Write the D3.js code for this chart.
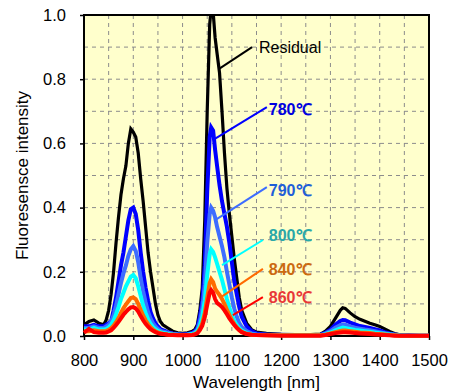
<!DOCTYPE html>
<html lang="en">
<head>
<meta charset="UTF-8">
<script src="https://d3js.org/d3.v7.min.js"></script>
<style>
  body { margin: 0; background: #fff; }
  svg text { font-family: "Liberation Sans", Arial, sans-serif; }
</style>
</head>
<body>
<div id="chart"></div>
<script>
// wavelengths shared by every series (nm)
var wavelengths = [
  800, 810, 820, 830, 840, 845, 850, 855, 860, 865,
  870, 875, 880, 885, 890, 895, 900, 905, 910, 915,
  920, 925, 930, 935, 940, 945, 950, 955, 960, 970,
  980, 990, 1000, 1010, 1020, 1025, 1030, 1035, 1040, 1045,
  1050, 1055, 1058, 1062, 1066, 1070, 1075, 1080, 1085, 1090,
  1095, 1100, 1105, 1110, 1115, 1120, 1130, 1140, 1150, 1170,
  1200, 1230, 1260, 1280, 1290, 1300, 1310, 1320, 1325, 1330,
  1340, 1350, 1360, 1370, 1380, 1390, 1400, 1410, 1420, 1430,
  1440, 1460, 1480, 1500
];

var residual = [
  0.035, 0.045, 0.05, 0.04, 0.035, 0.05, 0.08, 0.13, 0.20, 0.29,
  0.37, 0.44, 0.49, 0.53, 0.60, 0.645, 0.635, 0.62, 0.57, 0.49,
  0.42, 0.34, 0.26, 0.20, 0.15, 0.10, 0.065, 0.045, 0.035, 0.025,
  0.015, 0.01, 0.008, 0.01, 0.015, 0.02, 0.035, 0.08, 0.15, 0.36,
  0.70, 0.97, 1.02, 1.01, 0.93, 0.88, 0.82, 0.70, 0.57, 0.46,
  0.38, 0.31, 0.24, 0.18, 0.12, 0.08, 0.04, 0.02, 0.012, 0.008,
  0.005, 0.004, 0.004, 0.006, 0.015, 0.03, 0.055, 0.08, 0.088, 0.086,
  0.072, 0.06, 0.052, 0.046, 0.04, 0.035, 0.03, 0.022, 0.014, 0.008,
  0.004, 0.002, 0.001, 0.001
];
var t780 = [
  0.03, 0.03, 0.035, 0.03, 0.03, 0.035, 0.04, 0.045, 0.08, 0.12,
  0.17, 0.22, 0.26, 0.31, 0.36, 0.395, 0.40, 0.38, 0.33, 0.26,
  0.20, 0.15, 0.11, 0.075, 0.055, 0.04, 0.03, 0.022, 0.018, 0.012,
  0.008, 0.006, 0.005, 0.006, 0.01, 0.015, 0.025, 0.06, 0.11, 0.22,
  0.45, 0.62, 0.65, 0.64, 0.58, 0.53, 0.47, 0.42, 0.38, 0.34,
  0.29, 0.23, 0.17, 0.13, 0.09, 0.06, 0.03, 0.015, 0.008, 0.005,
  0.004, 0.003, 0.003, 0.004, 0.01, 0.02, 0.035, 0.047, 0.05, 0.049,
  0.042, 0.036, 0.031, 0.028, 0.025, 0.021, 0.017, 0.012, 0.008, 0.005,
  0.003, 0.002, 0.001, 0.001
];
var t790 = [
  0.025, 0.025, 0.03, 0.025, 0.025, 0.03, 0.035, 0.045, 0.065, 0.095,
  0.13, 0.165, 0.195, 0.22, 0.25, 0.27, 0.28, 0.265, 0.23, 0.18,
  0.14, 0.105, 0.075, 0.055, 0.04, 0.03, 0.022, 0.017, 0.014, 0.01,
  0.007, 0.005, 0.004, 0.005, 0.008, 0.012, 0.02, 0.045, 0.085, 0.16,
  0.29, 0.38, 0.40, 0.39, 0.37, 0.34, 0.31, 0.28, 0.245, 0.20,
  0.16, 0.12, 0.085, 0.06, 0.04, 0.028, 0.015, 0.008, 0.005, 0.004,
  0.003, 0.003, 0.003, 0.003, 0.008, 0.015, 0.026, 0.034, 0.036, 0.035,
  0.03, 0.026, 0.023, 0.02, 0.018, 0.015, 0.012, 0.009, 0.006, 0.004,
  0.002, 0.001, 0.001, 0.001
];
var t800 = [
  0.02, 0.02, 0.025, 0.02, 0.02, 0.022, 0.027, 0.035, 0.048, 0.068,
  0.09, 0.115, 0.135, 0.155, 0.17, 0.185, 0.19, 0.18, 0.155, 0.125,
  0.095, 0.072, 0.052, 0.038, 0.028, 0.021, 0.016, 0.012, 0.01, 0.007,
  0.005, 0.004, 0.003, 0.004, 0.006, 0.009, 0.015, 0.032, 0.06, 0.11,
  0.19, 0.255, 0.27, 0.262, 0.245, 0.225, 0.20, 0.175, 0.145, 0.115,
  0.088, 0.065, 0.047, 0.034, 0.024, 0.017, 0.009, 0.005, 0.004, 0.003,
  0.002, 0.002, 0.002, 0.002, 0.006, 0.011, 0.018, 0.024, 0.026, 0.025,
  0.022, 0.019, 0.017, 0.015, 0.013, 0.011, 0.009, 0.007, 0.005, 0.003,
  0.002, 0.001, 0.001, 0.001
];
var t840 = [
  0.015, 0.015, 0.018, 0.015, 0.015, 0.016, 0.019, 0.024, 0.032, 0.043,
  0.056, 0.072, 0.086, 0.098, 0.108, 0.118, 0.12, 0.115, 0.10, 0.082,
  0.064, 0.049, 0.037, 0.027, 0.02, 0.015, 0.011, 0.009, 0.007, 0.005,
  0.004, 0.003, 0.003, 0.003, 0.004, 0.006, 0.01, 0.022, 0.04, 0.072,
  0.12, 0.165, 0.177, 0.168, 0.148, 0.138, 0.128, 0.115, 0.10, 0.082,
  0.065, 0.05, 0.037, 0.027, 0.019, 0.013, 0.007, 0.004, 0.003, 0.002,
  0.002, 0.002, 0.002, 0.002, 0.004, 0.008, 0.012, 0.016, 0.017, 0.017,
  0.015, 0.013, 0.011, 0.01, 0.009, 0.007, 0.006, 0.005, 0.003, 0.002,
  0.001, 0.001, 0.001, 0.001
];
var t860 = [
  0.01, 0.022, 0.012, 0.01, 0.01, 0.011, 0.014, 0.018, 0.025, 0.034,
  0.044, 0.055, 0.066, 0.075, 0.083, 0.089, 0.09, 0.086, 0.076, 0.062,
  0.049, 0.038, 0.029, 0.021, 0.016, 0.012, 0.009, 0.007, 0.006, 0.004,
  0.003, 0.002, 0.002, 0.002, 0.003, 0.005, 0.008, 0.018, 0.032, 0.058,
  0.097, 0.135, 0.143, 0.135, 0.115, 0.103, 0.097, 0.09, 0.08, 0.068,
  0.055, 0.044, 0.034, 0.025, 0.018, 0.012, 0.006, 0.004, 0.003, 0.002,
  0.001, 0.001, 0.001, 0.001, 0.003, 0.006, 0.009, 0.011, 0.012, 0.012,
  0.011, 0.009, 0.008, 0.007, 0.006, 0.005, 0.004, 0.003, 0.002, 0.001,
  0.001, 0.001, 0.001, 0.001
];

var seriesNames = ["Residual", "780℃", "790℃", "800℃", "840℃", "860℃"];
var seriesValues = [residual, t780, t790, t800, t840, t860];
var lineColors = ["#000000", "#0000ff", "#3d6dff", "#00ffff", "#ff6a00", "#ff0000"];
var textColors = ["#000000", "#0000e0", "#1f5fd8", "#2aa8a8", "#cc6a10", "#e83838"];

// label anchor (wavelength, intensity), leader line start and end
var labelPos = [[1155, 0.882], [1175, 0.688], [1175, 0.436], [1175, 0.296], [1175, 0.19], [1175, 0.103]];
var leaderFrom = [[1141, 0.90], [1171, 0.713], [1171, 0.464], [1163, 0.299], [1163, 0.209], [1163, 0.121]];
var leaderTo = [[1074, 0.832], [1062, 0.611], [1066, 0.361], [1080, 0.221], [1078, 0.121], [1102, 0.065]];

var xTicks = [800, 900, 1000, 1100, 1200, 1300, 1400, 1500];
var yTicks = [0, 0.2, 0.4, 0.6, 0.8, 1.0];

var margin = { top: 15, right: 22, bottom: 56, left: 84 },
    W = 451, H = 392,
    width = W - margin.left - margin.right,
    height = H - margin.top - margin.bottom;

var svg = d3.select("#chart").append("svg")
    .attr("width", W).attr("height", H);
var g = svg.append("g")
    .attr("transform", "translate(" + margin.left + "," + margin.top + ")");

var x = d3.scaleLinear().domain([800, 1500]).range([0, width]);
var y = d3.scaleLinear().domain([0, 1]).range([height, 0]);

g.append("rect").attr("width", width).attr("height", height).attr("fill", "#ffffcc");

// dashed grid
g.selectAll(".vg").data(d3.range(850, 1500, 50)).enter().append("line")
    .attr("x1", d => x(d)).attr("x2", d => x(d))
    .attr("y1", 0).attr("y2", height)
    .attr("stroke", "#8c8c8c").attr("stroke-width", 1).attr("stroke-dasharray", "4,4");
g.selectAll(".hg").data(d3.range(1, 10).map(d => d / 10)).enter().append("line")
    .attr("x1", 0).attr("x2", width)
    .attr("y1", d => y(d)).attr("y2", d => y(d))
    .attr("stroke", "#8c8c8c").attr("stroke-width", 1).attr("stroke-dasharray", "4,4");

// axes
var xAxis = g.append("g").attr("transform", "translate(0," + height + ")")
    .call(d3.axisBottom(x).tickValues(xTicks).tickSize(4).tickPadding(14).tickFormat(d3.format("d")));
var yAxis = g.append("g")
    .call(d3.axisLeft(y).tickValues(yTicks).tickSize(4).tickPadding(14).tickFormat(d3.format(".1f")));
[xAxis, yAxis].forEach(a => {
  a.select(".domain").remove();
  a.selectAll("line").attr("stroke", "#000").attr("stroke-width", 1.5);
  a.selectAll("text").attr("font-size", "16.5px").attr("fill", "#000")
    .attr("font-family", "'Liberation Sans', Arial, sans-serif");
});

g.append("rect").attr("width", width).attr("height", height)
    .attr("fill", "none").attr("stroke", "#000").attr("stroke-width", 2);

svg.append("defs").append("clipPath").attr("id", "clip")
  .append("rect").attr("x", -4).attr("y", -1).attr("width", width + 8).attr("height", height + 10);

var line = d3.line()
    .x((d, i) => x(wavelengths[i]))
    .y(d => y(d));

var lines = g.append("g").attr("clip-path", "url(#clip)");
seriesValues.forEach((vals, i) => {
  lines.append("path").datum(vals)
    .attr("d", line)
    .attr("fill", "none")
    .attr("stroke", lineColors[i])
    .attr("stroke-width", i === 0 ? 3.2 : 4)
    .attr("stroke-linejoin", "miter");
});

// leader lines and labels
seriesNames.forEach((name, i) => {
  g.append("line")
    .attr("x1", x(leaderFrom[i][0])).attr("y1", y(leaderFrom[i][1]))
    .attr("x2", x(leaderTo[i][0])).attr("y2", y(leaderTo[i][1]))
    .attr("stroke", lineColors[i]).attr("stroke-width", 2);
  g.append("text")
    .attr("x", x(labelPos[i][0])).attr("y", y(labelPos[i][1]))
    .attr("font-size", "16px")
    .attr("font-weight", i === 0 ? "normal" : "bold")
    .attr("fill", textColors[i])
    .text(name);
});

// axis titles
svg.append("text")
    .attr("x", margin.left + width / 2).attr("y", 388)
    .attr("text-anchor", "middle").attr("font-size", "17px")
    .text("Wavelength [nm]");
svg.append("text")
    .attr("transform", "translate(28," + (margin.top + height / 2) + ") rotate(-90)")
    .attr("text-anchor", "middle").attr("font-size", "17px")
    .text("Fluoresensce intensity");
</script>
</body>
</html>
